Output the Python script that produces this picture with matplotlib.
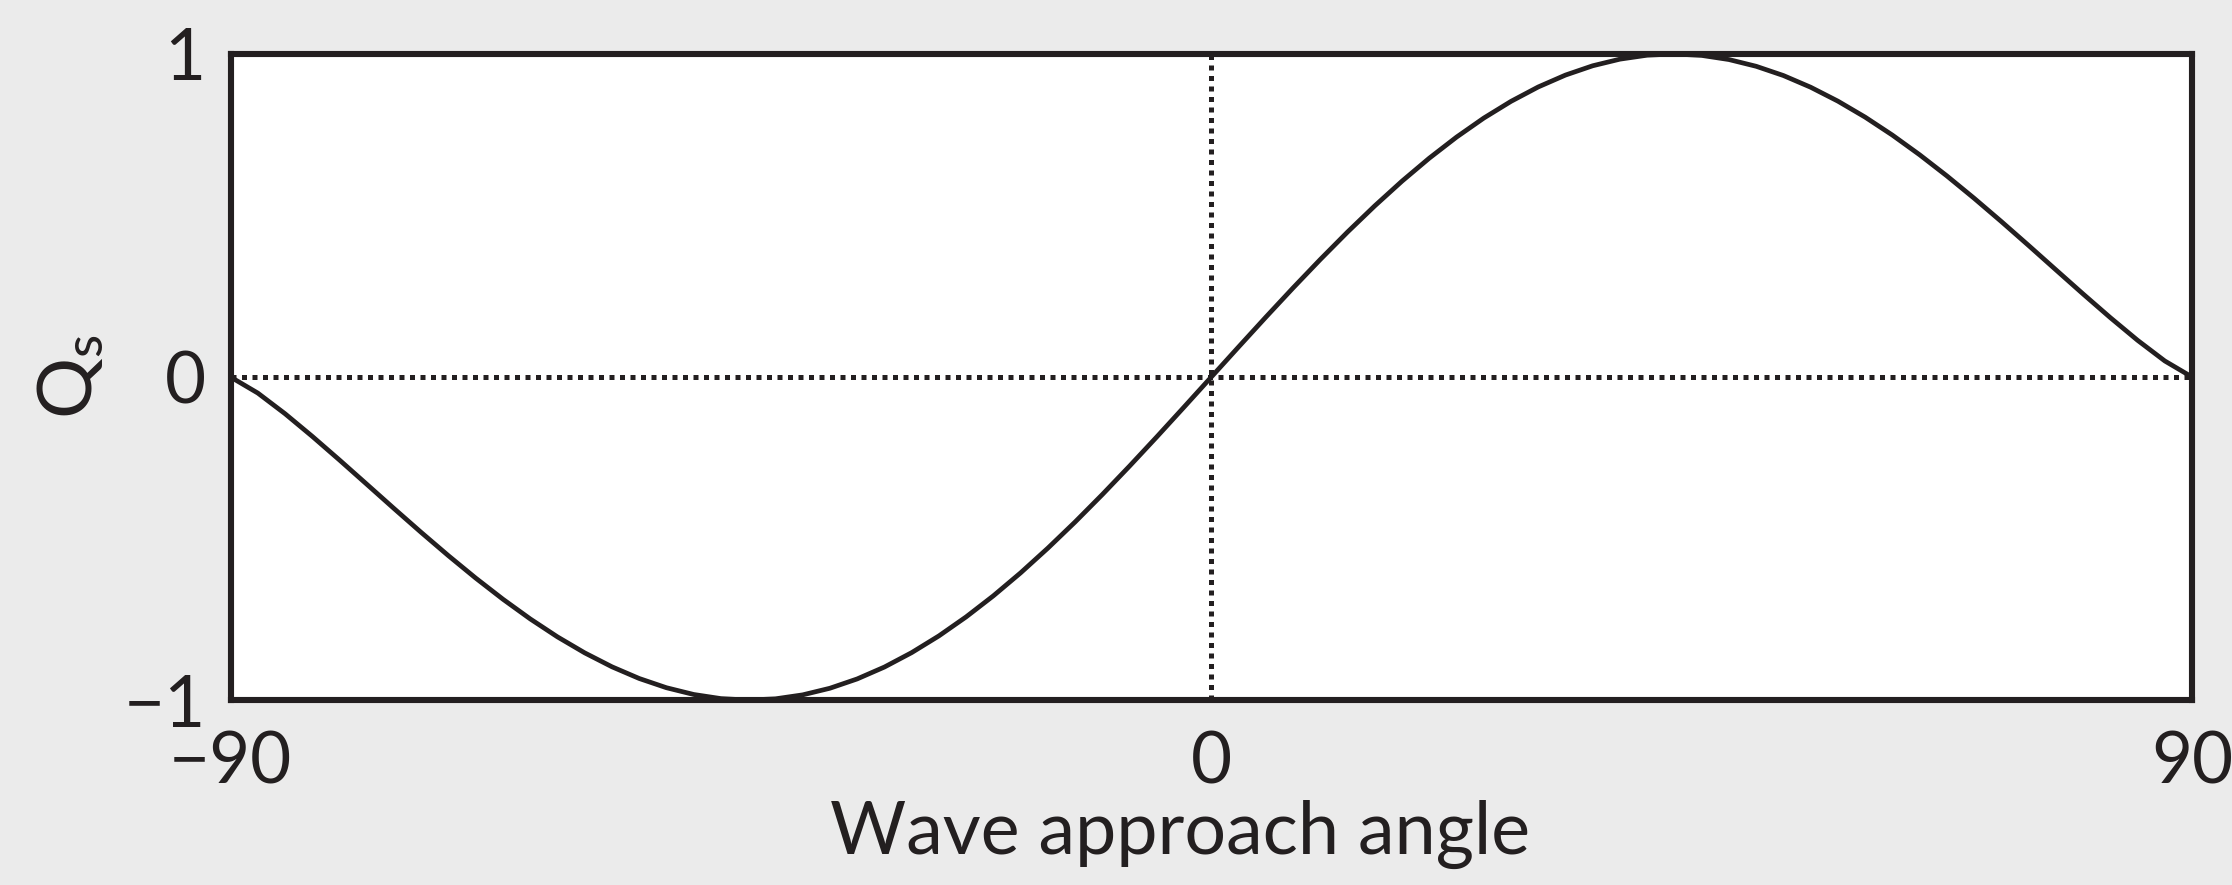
import numpy as np
import matplotlib.pyplot as plt

# 讀圖估計的數據 (每 2.5 度一點, 已正規化到最大值 1)
angle = np.arange(-90, 90.1, 2.5)
qs_pos = [0, .0930, .1852, .2757, .3638, .4488, .5298, .6063, .6774, .7426,
          .8015, .8533, .8979, .9347, .9635, .9840, .9963, 1.0, .9956, .9828,
          .9619, .9333, .8971, .8540, .8045, .7489, .6880, .6226, .5534, .4813,
          .4072, .3320, .2571, .1838, .1137, .0497, 0]
qs_neg = [0, -.0497, -.1137, -.1838, -.2571, -.3320, -.4072, -.4813, -.5534,
          -.6226, -.6880, -.7489, -.8045, -.8540, -.8971, -.9333, -.9619, -.9828,
          -.9956, -1.0, -.9963, -.9840, -.9635, -.9347, -.8979, -.8533, -.8015,
          -.7426, -.6774, -.6063, -.5298, -.4488, -.3638, -.2757, -.1852, -.0930]
qs = qs_neg + qs_pos

xticks = [-90, 0, 90]
xtick_labels = ['\u221290', '0', '90']
yticks = [-1, 0, 1]
ytick_labels = ['\u22121', '0', '1']

ink = '#231f20'
plt.rcParams['font.family'] = ['Lato', 'DejaVu Sans']

fig = plt.figure(figsize=(22.32, 8.85), dpi=100)
fig.patch.set_facecolor('#ebebeb')
ax = fig.add_axes([0.1033, 0.209, 0.8788, 0.730])
ax.set_facecolor('white')

# 參考線
ax.axhline(0, color=ink, linewidth=3.6, linestyle=(0, (1, 1.1)))
ax.axvline(0, color=ink, linewidth=3.6, linestyle=(0, (1, 1.1)))

ax.plot(angle, qs, color=ink, linewidth=3.4, solid_capstyle='round',
        solid_joinstyle='round')

ax.set_xlim(-90, 90)
ax.set_ylim(-1, 1)
ax.set_xticks(xticks)
ax.set_xticklabels(xtick_labels)
ax.set_yticks(yticks)
ax.set_yticklabels(ytick_labels)
ax.tick_params(axis='both', length=0, labelsize=51, colors=ink)
ax.tick_params(axis='x', pad=22)
ax.tick_params(axis='y', pad=18)

for s in ax.spines.values():
    s.set_linewidth(4.4)
    s.set_color(ink)

ax.set_xlabel('Wave approach angle', fontsize=53, color=ink)
ax.xaxis.set_label_coords(0.484, -0.155)
ax.set_ylabel('$\\mathregular{Q_s}$', fontsize=55, color=ink)
ax.yaxis.set_label_coords(-0.064, 0.5)

plt.savefig('out.png', dpi=100, facecolor=fig.get_facecolor())
